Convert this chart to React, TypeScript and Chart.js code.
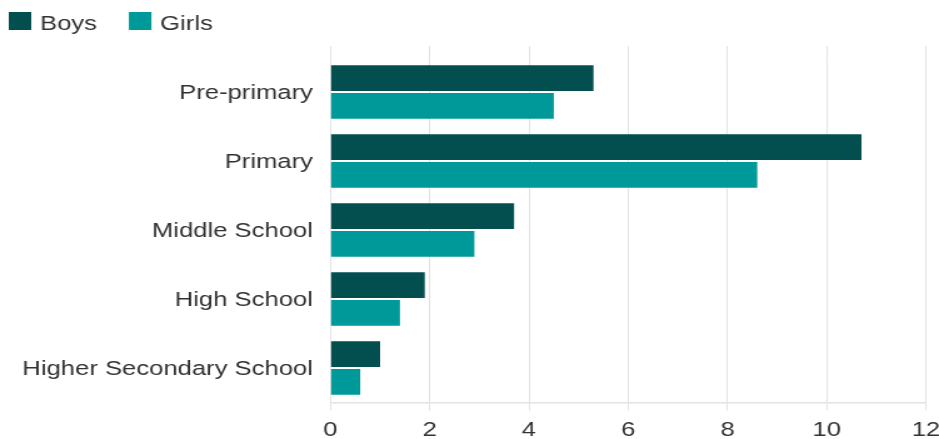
import React, { useEffect, useRef } from "react";
import { Chart, registerables } from "chart.js";

Chart.register(...registerables);

// ---- data ----
const categories = ["Pre-primary", "Primary", "Middle School", "High School", "Higher Secondary School"];
const seriesLabels = ["Boys", "Girls"];
const boysValues = [5.3, 10.7, 3.7, 1.9, 1.0];
const girlsValues = [4.5, 8.6, 2.9, 1.4, 0.6];
const xMin = 0;
const xMax = 12;
const xStep = 2;

// ---- style ----
const BOYS_COLOR = "#034f50";
const GIRLS_COLOR = "#009999";
const GRID_COLOR = "#e2e2e2";
const TEXT_COLOR = "#333333";
const FONT = '"Liberation Sans", Arial, sans-serif';
const FONT_SIZE = 20.5;

// The reference is horizontally stretched: draw at a narrower internal width, display wider.
const CANVAS_W = 751;
const DISPLAY_W = 939;
const H = 439;

const alignPx = (p: number, w: number) => Math.round(p - w / 2) + w / 2;

const legendPlugin = {
  id: "customLegend",
  afterDraw(chart: any) {
    const ctx = chart.ctx;
    ctx.save();
    ctx.font = `${FONT_SIZE}px ${FONT}`;
    ctx.textBaseline = "alphabetic";
    ctx.textAlign = "left";
    let x = 7;
    chart.data.datasets.forEach((ds: any) => {
      ctx.fillStyle = ds.backgroundColor;
      ctx.fillRect(x, 12, 18, 18);
      ctx.fillStyle = TEXT_COLOR;
      const tx = x + 18 + 7;
      ctx.fillText(ds.label, tx, 29.5);
      x = tx + ctx.measureText(ds.label).width + 25.5;
    });
    ctx.restore();
  },
};

const gridExtPlugin = {
  id: "gridExt",
  beforeDatasetsDraw(chart: any) {
    const xs = chart.scales.x;
    const ctx = chart.ctx;
    ctx.save();
    ctx.strokeStyle = GRID_COLOR;
    ctx.lineWidth = 1;
    xs.ticks.forEach((t: any) => {
      const px = alignPx(xs.getPixelForValue(t.value), 1);
      ctx.beginPath();
      ctx.moveTo(px, 46);
      ctx.lineTo(px, chart.chartArea.top);
      ctx.stroke();
    });
    ctx.restore();
  },
};

export default function App() {
  const ref = useRef<HTMLCanvasElement>(null);

  useEffect(() => {
    document.body.style.margin = "0";
    Chart.defaults.font.family = FONT;
    Chart.defaults.font.size = FONT_SIZE;
    Chart.defaults.color = TEXT_COLOR;

    const chart = new Chart(ref.current as HTMLCanvasElement, {
      type: "bar",
      data: {
        labels: categories,
        datasets: [
          {
            label: seriesLabels[0],
            data: boysValues,
            backgroundColor: BOYS_COLOR,
            categoryPercentage: 0.8,
            barPercentage: 0.93,
          },
          {
            label: seriesLabels[1],
            data: girlsValues,
            backgroundColor: GIRLS_COLOR,
            categoryPercentage: 0.8,
            barPercentage: 0.93,
          },
        ],
      },
      options: {
        indexAxis: "y",
        responsive: false,
        animation: false,
        devicePixelRatio: 1,
        layout: { padding: { top: 57.5, left: 0, right: 0, bottom: 0 } },
        plugins: {
          legend: { display: false },
          tooltip: { enabled: false },
        },
        scales: {
          x: {
            type: "linear",
            min: xMin,
            max: xMax,
            ticks: {
              stepSize: xStep,
              padding: 8,
              color: TEXT_COLOR,
              font: { size: FONT_SIZE, family: FONT },
            },
            grid: {
              color: GRID_COLOR,
              lineWidth: 1,
              drawTicks: true,
              tickLength: 8,
            },
            border: { display: true, color: GRID_COLOR, width: 1.5 },
            afterFit(scale: any) {
              scale.height = 36.5;
              scale.paddingRight = 10.4;
              scale.paddingLeft = 0;
            },
          },
          y: {
            type: "category",
            ticks: {
              padding: 14,
              labelOffset: 1.5,
              color: TEXT_COLOR,
              font: { size: FONT_SIZE, family: FONT },
            },
            grid: { display: false, drawTicks: false },
            border: { display: false },
            afterFit(scale: any) {
              scale.width = 264.3;
            },
          },
        },
      },
      plugins: [gridExtPlugin, legendPlugin],
    } as any);

    return () => chart.destroy();
  }, []);

  return (
    <canvas
      ref={ref}
      width={CANVAS_W}
      height={H}
      style={{ width: DISPLAY_W + "px", height: H + "px", display: "block" }}
    />
  );
}
